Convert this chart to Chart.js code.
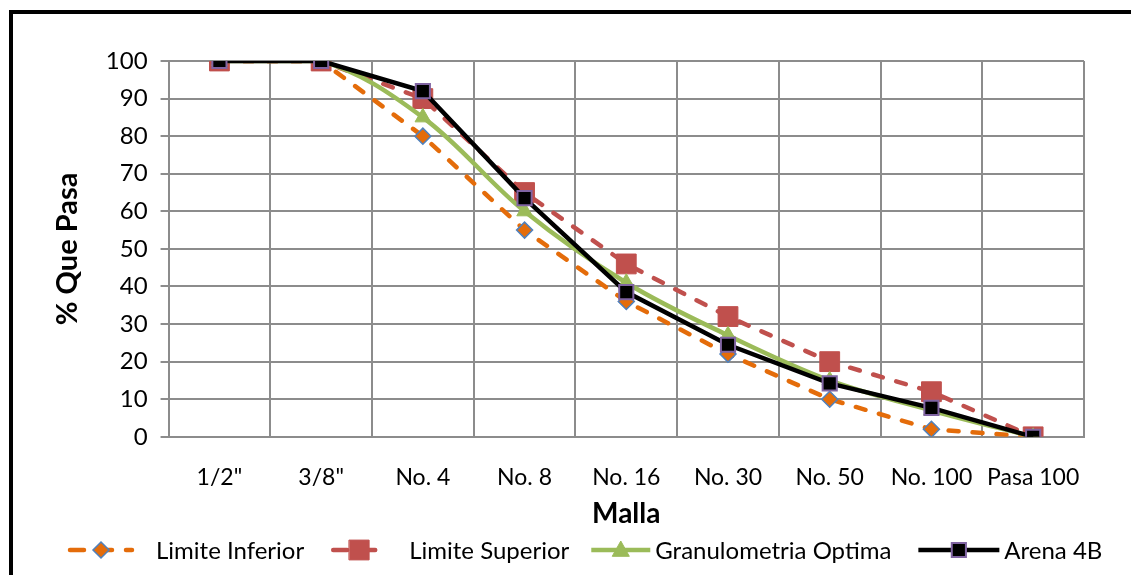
<!DOCTYPE html>
<html>
<head>
<meta charset="utf-8">
<script src="https://cdn.jsdelivr.net/npm/chart.js@4"></script>
<style>
body{margin:0;background:#fff;}
#wrap{position:relative;width:1131px;height:575px;overflow:hidden;}
#frame{position:absolute;left:9px;top:10px;width:1200px;height:700px;border:4px solid #000;pointer-events:none;}
</style>
</head>
<body>
<div id="wrap">
<canvas id="curva" width="1131" height="575"></canvas>
<div id="frame"></div>
</div>
<script>
const mallas = ['1/2"', '3/8"', "No. 4", "No. 8", "No. 16", "No. 30", "No. 50", "No. 100", "Pasa 100"];
const limiteInferior = [100, 100, 80, 55, 36, 22, 10, 2, 0];
const limiteSuperior = [100, 100, 90, 65, 46, 32, 20, 12, 0];
const granulometriaOptima = [100, 100, 85, 60, 41, 27, 15, 7, 0];
const arena4B = [100, 100, 92, 63.5, 38.5, 24.5, 14.2, 7.7, 0];
const yTicks = [0, 10, 20, 30, 40, 50, 60, 70, 80, 90, 100];

const font = "Lato";

// legend drawn by hand so each entry looks like the Excel one (line + marker)
const leyenda = {
  id: "leyenda",
  afterDraw(chart) {
    const g = chart.ctx;
    const y = 550;
    const anchos = [66, 56, 63, 85];
    const huecos = [22, 22, 3, 3];
    const sep = [27, 20, 25, 0];
    g.save();
    g.font = "24px " + font;
    g.textBaseline = "middle";
    let x = 68;
    chart.data.datasets.forEach((ds, i) => {
      const w = anchos[i];
      g.strokeStyle = ds.borderColor;
      g.lineWidth = 4.5;
      g.lineCap = ds.borderDash ? "round" : "butt";
      g.setLineDash(ds.borderDash ? [14, 14] : []);
      g.beginPath(); g.moveTo(x + 2, y); g.lineTo(x + w - 2, y); g.stroke();
      g.setLineDash([]);
      const cx = x + w / 2;
      g.fillStyle = ds.pointBackgroundColor;
      g.strokeStyle = ds.pointBorderColor;
      g.lineWidth = ds.pointBorderWidth;
      g.beginPath();
      const r = ds.pointRadius;
      if (ds.pointStyle == "rectRot") { g.moveTo(cx, y - r); g.lineTo(cx + r, y); g.lineTo(cx, y + r); g.lineTo(cx - r, y); g.closePath(); }
      if (ds.pointStyle == "rect") { const s = r * Math.SQRT1_2; g.rect(cx - s, y - s, 2 * s, 2 * s); }
      if (ds.pointStyle == "triangle") { g.moveTo(cx, y - r); g.lineTo(cx + r * 0.95, y + r * 0.7); g.lineTo(cx - r * 0.95, y + r * 0.7); g.closePath(); }
      g.fill(); g.stroke();
      x += w + huecos[i];
      g.fillStyle = "#000";
      g.fillText(ds.label, x, y + 1);
      x += g.measureText(ds.label).width + sep[i];
    });
    g.restore();
  }
};

new Chart(document.getElementById("curva"), {
  type: "line",
  data: {
    labels: mallas,
    datasets: [
      {
        label: "Limite Inferior",
        data: limiteInferior,
        borderColor: "#E46C0A",
        borderWidth: 4.5,
        borderDash: [10, 14],
        borderCapStyle: "round",
        pointStyle: "rectRot",
        pointRadius: 8,
        pointBackgroundColor: "#E46C0A",
        pointBorderColor: "#4F81BD",
        pointBorderWidth: 1.5,
        tension: 0,
        order: 4
      },
      {
        label: "Limite Superior",
        data: limiteSuperior,
        borderColor: "#C0504D",
        borderWidth: 4.5,
        borderDash: [10, 14],
        borderCapStyle: "round",
        pointStyle: "rect",
        pointRadius: 14,
        pointBackgroundColor: "#C0504D",
        pointBorderColor: "#C0504D",
        pointBorderWidth: 1,
        tension: 0,
        order: 3
      },
      {
        label: "Granulometria Optima",
        data: granulometriaOptima,
        borderColor: "#9BBB59",
        borderWidth: 4.5,
        pointStyle: "triangle",
        pointRadius: 9,
        pointBackgroundColor: "#9BBB59",
        pointBorderColor: "#9BBB59",
        pointBorderWidth: 1,
        tension: 0.35,
        order: 2
      },
      {
        label: "Arena 4B",
        data: arena4B,
        borderColor: "#000000",
        borderWidth: 4.5,
        pointStyle: "rect",
        pointRadius: 10,
        pointBackgroundColor: "#000000",
        pointBorderColor: "#8064A2",
        pointBorderWidth: 2,
        tension: 0,
        order: 1
      }
    ]
  },
  options: {
    responsive: false,
    animation: false,
    layout: { padding: { top: 61, right: 47, left: 50, bottom: 42 } },
    scales: {
      x: {
        offset: true,
        grid: { offset: true, color: "#8c8c8c", lineWidth: 2, drawTicks: true, tickLength: 24, tickColor: "rgba(0,0,0,0)" },
        border: { color: "#8c8c8c", width: 2 },
        ticks: { color: "#000", padding: 3, font: { family: font, size: 23 } },
        title: { display: true, text: "Malla", color: "#000", padding: { top: 3, bottom: 2 }, font: { family: font, size: 28, weight: "bold" } }
      },
      y: {
        min: 0,
        max: 100,
        afterBuildTicks: (axis) => { axis.ticks = yTicks.map(v => ({ value: v })); },
        grid: { color: "#8c8c8c", lineWidth: 2, tickLength: 8 },
        border: { color: "#8c8c8c", width: 2 },
        ticks: { color: "#000", padding: 13, font: { family: font, size: 24 } },
        title: { display: true, text: "% Que Pasa", color: "#000", padding: { top: 0, bottom: 8 }, font: { family: font, size: 29, weight: "bold" } }
      }
    },
    plugins: {
      legend: { display: false },
      tooltip: { enabled: false }
    }
  },
  plugins: [leyenda]
});
</script>
</body>
</html>
